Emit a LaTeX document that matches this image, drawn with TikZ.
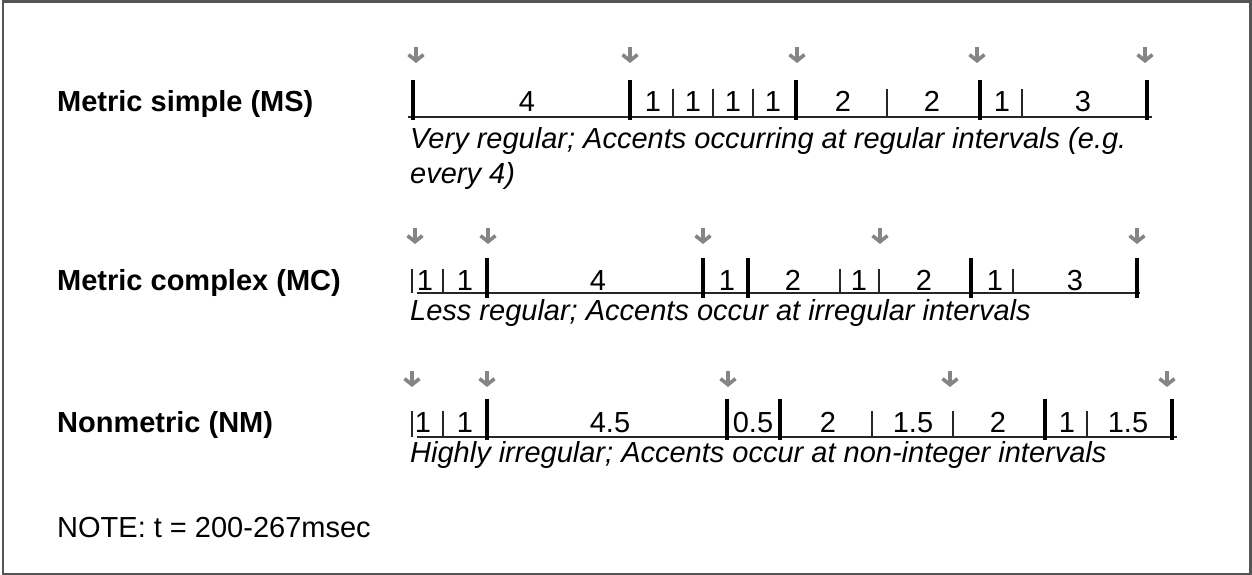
\documentclass[tikz,border=0pt]{standalone}
\usepackage{fontspec}
\setmainfont{Liberation Sans}
\usetikzlibrary{arrows.meta}
\definecolor{framegray}{HTML}{555555}
\definecolor{accentgray}{HTML}{858585}
\begin{document}
\begin{tikzpicture}[x=1pt,y=-1pt,
  txt/.style={inner sep=0pt,font=\fontsize{29}{35}\selectfont},
  rowlabel/.style={txt,anchor=base west,font=\fontsize{29}{35}\selectfont\bfseries},
  caption/.style={txt,anchor=base west,font=\fontsize{29}{35}\selectfont\itshape},
  num/.style={txt,anchor=base},
  axisline/.style={line width=2pt,black!85},
  thicktick/.style={line width=4pt,black},
  thintick/.style={line width=1.8pt,black!85},
  accent/.style={line width=3.6pt,accentgray,-{Straight Barb[length=6pt,width=15pt]}},
  frame/.style={line width=2.2pt,framegray}]
\useasboundingbox (0,0) rectangle (1252,575);
\draw[frame] (3,1.5) rectangle (1250.5,574);

% ---------- Row 1: Metric simple ----------
\node[rowlabel] (lMS) at (57,112) {Metric simple (MS)};
\coordinate (a1s) at (408,117); \coordinate (a1e) at (1152,117);
\draw[axisline] (a1s) -- (a1e);
\foreach \x in {413,630,796,980,1147} \draw[thicktick] (\x,80) -- (\x,120);
\foreach \x in {673,713,753,887,1022} \draw[thintick] (\x,89) -- (\x,117);
\foreach \x/\t [count=\i] in {527/4,653/1,693/1,733/1,773/1,843/2,932/2,1002/1,1083/3}
  \node[num] (n1-\i) at (\x,112) {\t};
\foreach \x [count=\i] in {416,630,797,977,1145}
  \draw[accent] (\x,47) coordinate (s1-\i) -- (\x,63) coordinate (e1-\i);
\node[caption] (cMS1) at (410,149) {Very regular; Accents occurring at regular intervals (e.g.};
\node[caption] (cMS2) at (410,183) {every 4)};

% ---------- Row 2: Metric complex ----------
\node[rowlabel] (lMC) at (57,290) {Metric complex (MC)};
\coordinate (a2s) at (417,293); \coordinate (a2e) at (1140,293);
\draw[axisline] (a2s) -- (a2e);
\foreach \x in {487,703,748,971,1137} \draw[thicktick] (\x,258) -- (\x,298);
\foreach \x in {412,443,840,879,1013} \draw[thintick] (\x,269) -- (\x,293);
\foreach \x/\t [count=\i] in {425/1,465/1,598/4,727/1,793/2,859/1,924/2,995/1,1075/3}
  \node[num] (n2-\i) at (\x,290) {\t};
\foreach \x [count=\i] in {415,488,703,880,1137}
  \draw[accent] (\x,228) coordinate (s2-\i) -- (\x,244) coordinate (e2-\i);
\node[caption] (cMC) at (410,320) {Less regular; Accents occur at irregular intervals};

% ---------- Row 3: Nonmetric ----------
\node[rowlabel] (lNM) at (57,432) {Nonmetric (NM)};
\coordinate (a3s) at (417,437); \coordinate (a3e) at (1177,437);
\draw[axisline] (a3s) -- (a3e);
\foreach \x in {487,727,780,1045,1172} \draw[thicktick] (\x,399) -- (\x,440);
\foreach \x in {412,443,872,953,1087} \draw[thintick] (\x,411) -- (\x,437);
\foreach \x/\t [count=\i] in {423/1,465/1,610/4.5,753/0.5,828/2,913/1.5,998/2,1067/1,1128/1.5}
  \node[num] (n3-\i) at (\x,432) {\t};
\foreach \x [count=\i] in {412,487,728,950,1167}
  \draw[accent] (\x,371) coordinate (s3-\i) -- (\x,387) coordinate (e3-\i);
\node[caption] (cNM) at (410,462) {Highly irregular; Accents occur at non-integer intervals};

% ---------- Note ----------
\node[txt,anchor=base west] (note) at (57,537) {NOTE: t = 200-267msec};
\end{tikzpicture}
\end{document}
